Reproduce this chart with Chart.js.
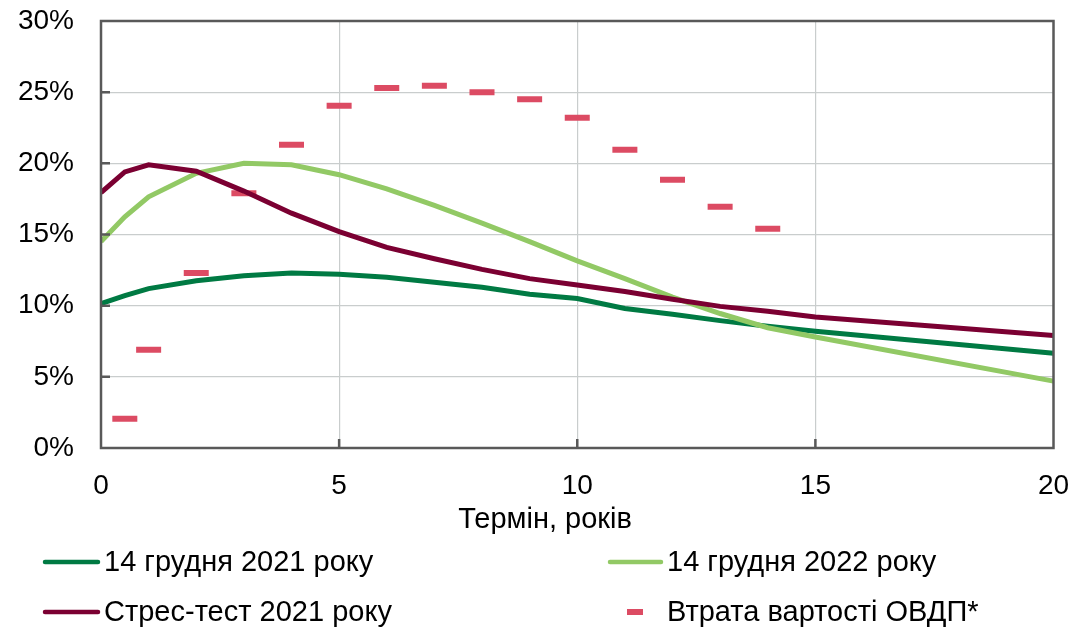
<!DOCTYPE html>
<html lang="uk">
<head>
<meta charset="utf-8">
<title>Криві дохідності ОВДП</title>
<script src="https://cdn.jsdelivr.net/npm/chart.js@4.4.1/dist/chart.umd.min.js"></script>
<style>
  html, body { margin: 0; padding: 0; background: #ffffff; }
  #wrap { position: relative; width: 1072px; height: 628px; }
</style>
</head>
<body>
<div id="wrap"><canvas id="c" width="1072" height="628"></canvas></div>
<script>
// Terms (years) for the yield curves
const terms = [0, 0.5, 1, 2, 3, 4, 5, 6, 7, 8, 9, 10, 11, 12, 13, 14, 15, 20];
// Yields, %
const curve2021 = [10.15, 10.7, 11.2, 11.75, 12.1, 12.3, 12.2, 12.0, 11.65, 11.3, 10.8, 10.5, 9.8, 9.4, 8.95, 8.55, 8.2, 6.65];
const curve2022 = [14.5, 16.25, 17.65, 19.3, 20.0, 19.9, 19.2, 18.2, 17.05, 15.8, 14.5, 13.15, 11.9, 10.6, 9.45, 8.45, 7.8, 4.7];
const stress2021 = [17.95, 19.4, 19.9, 19.45, 18.05, 16.5, 15.2, 14.1, 13.3, 12.55, 11.9, 11.45, 11.0, 10.45, 9.95, 9.6, 9.2, 7.9];
// Loss of government bond value under stress, %
const lossTerms = [0.5, 1, 2, 3, 4, 5, 6, 7, 8, 9, 10, 11, 12, 13, 14];
const lossValues = [2.05, 6.9, 12.3, 17.9, 21.3, 24.05, 25.3, 25.45, 25.0, 24.5, 23.2, 20.95, 18.85, 16.95, 15.4];
// Axis tick values
const xTicks = [0, 5, 10, 15, 20];
const yTicks = [0, 5, 10, 15, 20, 25, 30];

const seriesLabels = ['14 грудня 2021 року', '14 грудня 2022 року', 'Стрес-тест 2021 року', 'Втрата вартості ОВДП*'];
const axisTitle = 'Термін, років';

const FONT = '"Liberation Sans", Arial, sans-serif';
const AXIS_COLOR = '#595959';
const GRID_COLOR = '#c9cdcd';

const pts = (xs, ys) => xs.map((x, i) => ({ x, y: ys[i] }));

// Plot frame with inward tick marks
const framePlugin = {
  id: 'frame',
  afterDatasetsDraw(chart) {
    const { ctx, chartArea: a, scales } = chart;
    ctx.save();
    ctx.strokeStyle = AXIS_COLOR;
    ctx.lineWidth = 2.5;
    ctx.strokeRect(a.left, a.top, a.right - a.left, a.bottom - a.top);
    ctx.beginPath();
    yTicks.slice(1, -1).forEach(v => {
      const y = scales.y.getPixelForValue(v);
      ctx.moveTo(a.left, y); ctx.lineTo(a.left + 9, y);
    });
    xTicks.slice(1, -1).forEach(v => {
      const x = scales.x.getPixelForValue(v);
      ctx.moveTo(x, a.bottom); ctx.lineTo(x, a.bottom - 9);
    });
    ctx.stroke();
    ctx.restore();
  }
};

// Axis title and two-column legend under the plot
const legendPlugin = {
  id: 'gridLegend',
  afterDraw(chart, args, opts) {
    const { ctx } = chart;
    const ds = chart.data.datasets;
    ctx.save();
    ctx.font = opts.font;
    ctx.fillStyle = '#000000';
    ctx.textAlign = 'center';
    ctx.textBaseline = 'alphabetic';
    ctx.fillText(opts.title.text, opts.title.x, opts.title.y);
    ctx.textAlign = 'left';
    ctx.textBaseline = 'middle';
    opts.items.forEach(item => {
      const d = ds[item.index];
      ctx.strokeStyle = d.borderColor;
      ctx.lineWidth = item.dash ? 6 : 4.5;
      ctx.lineCap = item.dash ? 'butt' : 'round';
      ctx.beginPath();
      ctx.moveTo(item.x1, item.y);
      ctx.lineTo(item.x2, item.y);
      ctx.stroke();
      ctx.fillText(d.label, item.tx, item.y + 1);
    });
    ctx.restore();
  }
};

new Chart(document.getElementById('c'), {
  type: 'line',
  data: {
    datasets: [
      { label: seriesLabels[0], data: pts(terms, curve2021), borderColor: '#007a43', backgroundColor: '#007a43',
        borderWidth: 5, pointRadius: 0, tension: 0, order: 3 },
      { label: seriesLabels[1], data: pts(terms, curve2022), borderColor: '#92c965', backgroundColor: '#92c965',
        borderWidth: 5, pointRadius: 0, tension: 0, order: 2 },
      { label: seriesLabels[2], data: pts(terms, stress2021), borderColor: '#7b0032', backgroundColor: '#7b0032',
        borderWidth: 5, pointRadius: 0, tension: 0, order: 1 },
      { label: seriesLabels[3], data: pts(lossTerms, lossValues), borderColor: '#dc4b63', backgroundColor: '#dc4b63',
        showLine: false, pointStyle: 'line', pointRadius: 12.5, pointBorderWidth: 6, pointHoverRadius: 12.5, order: 4 }
    ]
  },
  options: {
    responsive: false,
    animation: false,
    layout: { padding: { left: 0, right: 18, top: 21, bottom: 91 } },
    scales: {
      x: {
        type: 'linear', min: 0, max: 20,
        afterFit(s) { s.height = 89; s.paddingLeft = 0; s.paddingRight = 0; },
        afterBuildTicks(s) { s.ticks = xTicks.map(v => ({ value: v })); },
        grid: { color: GRID_COLOR, lineWidth: 1.2, drawTicks: false },
        border: { display: false },
        ticks: { color: '#000', font: { family: FONT, size: 28 }, padding: 21, maxRotation: 0 },
        title: { display: false }
      },
      y: {
        min: 0, max: 30,
        afterFit(s) { s.width = 101; s.paddingTop = 0; s.paddingBottom = 0; },
        afterBuildTicks(s) { s.ticks = yTicks.map(v => ({ value: v })); },
        grid: { color: GRID_COLOR, lineWidth: 1.2, drawTicks: false },
        border: { display: false },
        ticks: { color: '#000', font: { family: FONT, size: 28 }, padding: 27, callback: v => v + '%' }
      }
    },
    plugins: {
      legend: { display: false },
      tooltip: { enabled: false },
      gridLegend: {
        font: '29px ' + FONT,
        title: { text: axisTitle, x: 545, y: 528 },
        items: [
          { index: 0, x1: 45, x2: 98, y: 562, tx: 104 },
          { index: 1, x1: 610, x2: 661, y: 562, tx: 667 },
          { index: 2, x1: 45, x2: 98, y: 612, tx: 104 },
          { index: 3, x1: 627, x2: 643, y: 612, tx: 667, dash: true }
        ]
      }
    }
  },
  plugins: [framePlugin, legendPlugin]
});
</script>
</body>
</html>
